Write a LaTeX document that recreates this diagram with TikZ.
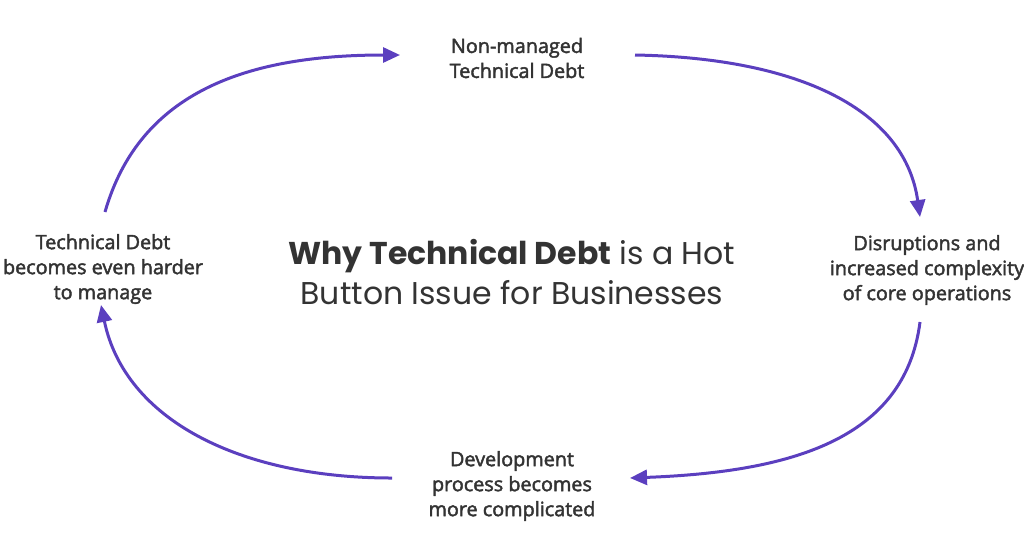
\documentclass[tikz,border=0pt]{standalone}
\usepackage{fontspec}
\usetikzlibrary{arrows.meta}
\newfontfamily\labfont{Open Sans}[FakeBold=2.2]
\newfontfamily\titfont{Poppins}
\definecolor{arrowpurple}{HTML}{5B3FBF}
\definecolor{txtgray}{HTML}{333333}
\tikzset{
  lbl/.style={align=center, text=txtgray, font=\labfont\fontsize{19.8}{25}\selectfont, inner sep=0pt},
  ttl/.style={align=center, text=txtgray, font=\titfont\fontsize{31.5}{40}\selectfont, inner sep=0pt},
  flow/.style={draw=arrowpurple, line width=3pt, -{Triangle[length=17pt,width=15pt]}}
}
\begin{document}
\begin{tikzpicture}[x=1pt,y=1pt]
\useasboundingbox (0,0) rectangle (1024,-547);
\node[lbl] (top) at (517,-58) {Non-managed\\Technical Debt};
\node[lbl] (right) at (927,-270) {Disruptions and\\increased complexity\\of core operations};
\node[lbl] (bottom) at (512,-486) {Development\\process becomes\\more complicated};
\node[lbl] (left) at (103,-269) {Technical Debt\\becomes even harder\\to manage};
\node[ttl] (title) at (512,-272) {{\bfseries Why Technical Debt} is a Hot\\Button Issue for Businesses};
\coordinate (a1) at (105,-212);
\coordinate (a2) at (400,-55);
\coordinate (b1) at (635,-55);
\coordinate (b2) at (920,-217);
\coordinate (c1) at (920,-322);
\coordinate (c2) at (630,-478);
\coordinate (d1) at (392,-478);
\coordinate (d2) at (101,-305);
\draw[flow] (a1) .. controls (140,-90) and (250,-55) .. (a2);
\draw[flow] (b1) .. controls (800,-58) and (905,-110) .. (b2);
\draw[flow] (c1) .. controls (905,-440) and (790,-472) .. (c2);
\draw[flow] (d1) .. controls (240,-478) and (125,-420) .. (d2);
\end{tikzpicture}
\end{document}
